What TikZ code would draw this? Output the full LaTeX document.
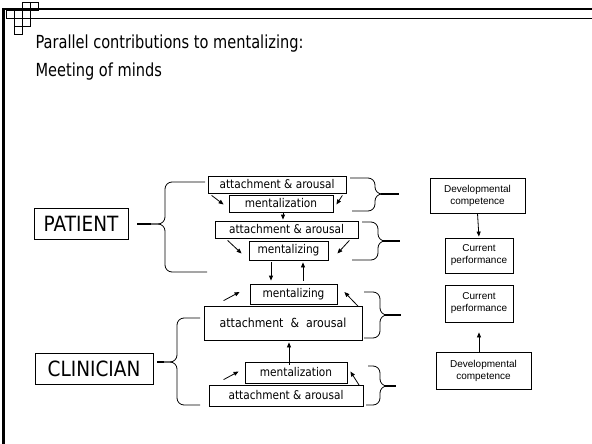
\documentclass[tikz,border=0pt]{standalone}
\usepackage{fontspec}
\setmainfont[FakeStretch=0.88]{DejaVu Sans}
\newfontfamily\titlefont[FakeStretch=0.81]{DejaVu Sans}
\newfontfamily\arialfont{Liberation Sans}
\usetikzlibrary{arrows.meta}

\begin{document}
\begin{tikzpicture}[x=1pt,y=-1pt,
  box/.style={draw,line width=0.8pt,inner sep=0pt,font=\fontsize{12}{14}\selectfont},
  rbox/.style={draw,line width=0.8pt,inner sep=0pt,align=center,font=\arialfont\fontsize{10}{12}\selectfont},
  who/.style={draw,line width=0.8pt,inner sep=0pt,font=\fontsize{21}{24}\selectfont},
  arr/.style={-{Triangle[length=5pt,width=4pt]},line width=0.8pt},
  brc/.style={line width=0.8pt,rounded corners=7pt},
  tipline/.style={line width=1.8pt}]
\useasboundingbox (0,0) rectangle (592,444);
% slide frame
\draw[line width=2.5pt] (3.5,444) -- (3.5,9) -- (592,9);
\draw[line width=0.8pt] (30,18) -- (592,18);
\foreach \x/\y in {22/2,30/2,6/10,14/10,22/10,14/18,22/18,14/26}
  \draw[line width=0.6pt] (\x,\y) rectangle ++(8,8);
% title
\node[anchor=base west,font=\titlefont\fontsize{18}{20}\selectfont] (title1) at (32,49) {Parallel contributions to mentalizing:};
\node[anchor=base west,font=\titlefont\fontsize{18}{20}\selectfont] (title2) at (32,77) {Meeting of minds};

% patient side
\node[who,minimum width=94,minimum height=31] (pat) at (81,223.5) {PATIENT};
\node[box,minimum width=138,minimum height=17] (att1) at (277,184.5) {attachment \& arousal};
\node[box,minimum width=104,minimum height=17] (ment1) at (281,203.5) {mentalization};
\node[box,minimum width=143,minimum height=17] (att2) at (286.5,229.5) {attachment \& arousal};
\node[box,minimum width=79,minimum height=19] (ment2) at (288.5,250.5) {mentalizing};

% clinician side
\node[who,minimum width=118,minimum height=31] (clin) at (94,368.5) {CLINICIAN};
\node[box,minimum width=87,minimum height=20] (ment3) at (293.5,294) {mentalizing};
\node[box,minimum width=158,minimum height=34,font=\fontsize{12.5}{14}\selectfont] (att3) at (283,323) {attachment\ \ \&\ \ arousal};
\node[box,minimum width=102,minimum height=21] (ment4) at (296,372.5) {mentalization};
\node[box,minimum width=154,minimum height=21] (att4) at (286,395.5) {attachment \& arousal};

% right column
\node[rbox,minimum width=95,minimum height=35] (devP) at (477.5,195.5) {Developmental\\competence};
\node[rbox,minimum width=68,minimum height=35] (curP) at (479,255.5) {Current\\performance};
\node[rbox,minimum width=68,minimum height=37] (curC) at (479,303.5) {Current\\performance};
\node[rbox,minimum width=95,minimum height=37] (devC) at (483.5,370.5) {Developmental\\competence};

% arrows
\draw[arr] ([xshift=4pt,yshift=-2pt]att1.south west) -- ([xshift=-5pt,yshift=-1pt]ment1.west);
\draw[arr] ([xshift=-4pt,yshift=-2pt]att1.south east) -- ([xshift=3pt,yshift=-1pt]ment1.east);
\draw[arr,shorten >=1pt] ([xshift=2pt]ment1.south) -- ([xshift=2pt]ment1.south |- att2.north);
\draw[arr] ([xshift=13pt,yshift=-2pt]att2.south west) -- ([xshift=-7pt,yshift=-3pt]ment2.west);
\draw[arr] ([xshift=-9pt,yshift=-2pt]att2.south east) -- ([xshift=9pt,yshift=-3pt]ment2.east);
\draw[arr] ([xshift=-17.5pt,yshift=-2pt]ment2.south) -- ([xshift=-22.5pt,yshift=3pt]ment3.north);
\draw[arr] ([xshift=9.5pt,yshift=3pt]ment3.north) -- ([xshift=14.5pt,yshift=-2pt]ment2.south);
\draw[arr] ([xshift=20pt,yshift=5pt]att3.north west) -- ([xshift=-10pt,yshift=2pt]ment3.west);
\draw[arr] ([xshift=-4pt,yshift=-1pt]att3.north east) -- ([xshift=7pt,yshift=2pt]ment3.east);
\draw[arr] ([xshift=-7pt,yshift=-3pt]ment4.north) -- ([xshift=6pt,yshift=-2pt]att3.south);
\draw[arr] ([xshift=15pt,yshift=5pt]att4.north west) -- ([xshift=-6pt,yshift=1pt]ment4.west);
\draw[arr] ([xshift=-4pt,yshift=-1pt]att4.north east) -- ([xshift=3pt,yshift=1pt]ment4.east);
\draw[arr,shorten >=1pt] (devP.south) -- (curP.north);
\draw[arr,shorten >=10pt] ([xshift=-4.5pt]devC.north) -- ([xshift=-4.5pt]devC.north |- curC.south);

% braces
\coordinate (ptip) at (151,224);
\draw[brc] (205,182) -| (165,224) -- (ptip);
\draw[brc] (207,272) -| (165,224) -- (ptip);
\draw[tipline] (ptip) -- +(-14,0);
\coordinate (ctip) at (164,362);
\draw[brc] (200,318) -| (177,362) -- (ctip);
\draw[brc] (200,405) -| (177,362) -- (ctip);
\draw[tipline] (ctip) -- +(-7,0);
\coordinate (r1) at (381,194);
\draw[brc] (350,178) -| (375,194) -- (r1);
\draw[brc] (352,211) -| (375,194) -- (r1);
\draw[tipline] (r1) -- +(18,0);
\coordinate (r2) at (383,241);
\draw[brc] (362,222) -| (378,241) -- (r2);
\draw[brc] (352,260) -| (378,241) -- (r2);
\draw[tipline] (r2) -- +(17,0);
\coordinate (r3) at (385,315);
\draw[brc] (364,292) -| (380,315) -- (r3);
\draw[brc] (364,338) -| (380,315) -- (r3);
\draw[tipline] (r3) -- +(16,0);
\coordinate (r4) at (385,386);
\draw[brc] (368,366) -| (380,386) -- (r4);
\draw[brc] (366,405) -| (380,386) -- (r4);
\draw[tipline] (r4) -- +(11,0);
\end{tikzpicture}
\end{document}
